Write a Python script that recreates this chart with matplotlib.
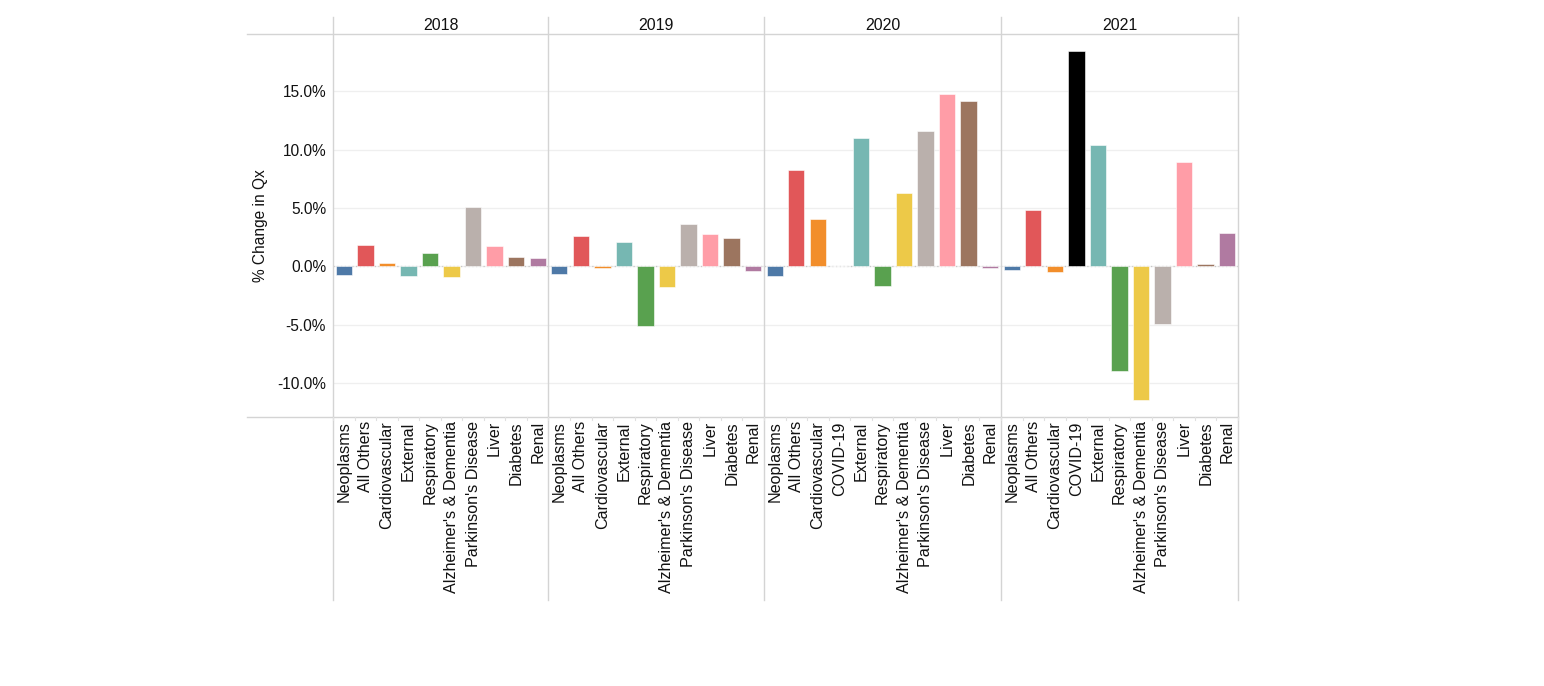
import numpy as np
import matplotlib.pyplot as plt
from matplotlib.lines import Line2D

plt.rcParams['font.family'] = ['Liberation Sans', 'DejaVu Sans']

# Data: % change in Qx by cause of death, per year
years = ['2018', '2019', '2020', '2021']
causes_pre = ['Neoplasms', 'All Others', 'Cardiovascular', 'External', 'Respiratory',
              "Alzheimer's & Dementia", "Parkinson's Disease", 'Liver', 'Diabetes', 'Renal']
causes_post = ['Neoplasms', 'All Others', 'Cardiovascular', 'COVID-19', 'External', 'Respiratory',
               "Alzheimer's & Dementia", "Parkinson's Disease", 'Liver', 'Diabetes', 'Renal']
vals_2018 = [-0.77, 1.86, 0.32, -0.86, 1.11, -0.91, 5.05, 1.77, 0.83, 0.72]
vals_2019 = [-0.63, 2.63, -0.12, 2.11, -5.08, -1.80, 3.63, 2.74, 2.46, -0.40]
vals_2020 = [-0.86, 8.22, 4.05, 0.0, 11.01, -1.66, 6.30, 11.58, 14.75, 14.18, -0.14]
vals_2021 = [-0.29, 4.79, -0.46, 18.43, 10.41, -8.99, -11.42, -4.97, 8.90, 0.20, 2.83]

colors = {
    'Neoplasms': '#4e79a7', 'All Others': '#e15759', 'Cardiovascular': '#f28e2b',
    'COVID-19': '#000000', 'External': '#76b7b2', 'Respiratory': '#59a14f',
    "Alzheimer's & Dementia": '#edc948', "Parkinson's Disease": '#bab0ac',
    'Liver': '#ff9da7', 'Diabetes': '#9c755f', 'Renal': '#b07aa1',
}

panels = [(years[0], causes_pre, vals_2018), (years[1], causes_pre, vals_2019),
          (years[2], causes_post, vals_2020), (years[3], causes_post, vals_2021)]

W, H = 1544, 686
fig = plt.figure(figsize=(W / 100, H / 100), dpi=100)
x0, x1, ytop, ybot = 333, 1238, 34, 417
ax = fig.add_axes([x0 / W, 1 - ybot / H, (x1 - x0) / W, (ybot - ytop) / H])

labels, heights, cols, bounds = [], [], [], [0]
for yr, cats, vals in panels:
    labels += cats
    heights += vals
    cols += [colors[c] for c in cats]
    bounds.append(bounds[-1] + len(cats))

pos = np.arange(len(labels))
ax.bar(pos, heights, width=0.76, color=cols, edgecolor='#ffffff', linewidth=0.4, zorder=3)

ax.set_xlim(-0.5, len(labels) - 0.5)
ax.set_ylim(-12.9, 19.9)
ax.set_yticks([-10, -5, 0, 5, 10, 15])
ax.set_yticklabels(['%.1f%%' % v for v in [-10, -5, 0, 5, 10, 15]])
ax.set_xticks(pos)
ax.set_xticklabels(labels, rotation=90, va='top', ha='center', fontsize=11.6, color='#111111')
ax.tick_params(axis='x', length=0, pad=3)
ax.tick_params(axis='y', length=0, pad=5, labelsize=11.2, labelcolor='#111111')
ax.set_ylabel('% Change in Qx', fontsize=11.2, color='#111111')
ax.yaxis.set_label_coords((268 - x0) / (x1 - x0), 0.5)

for s in ax.spines.values():
    s.set_visible(False)
ax.grid(axis='y', color='#efefef', linewidth=0.9, zorder=0)
ax.axhline(0, color='#c8c8c8', linestyle=(0, (1, 2)), linewidth=0.9, zorder=2)

# panel separators, headers
for i, b in enumerate(bounds):
    xf = (x0 + (x1 - x0) * b / len(labels)) / W
    fig.add_artist(Line2D([xf, xf], [1 - 600 / H, 1 - 17 / H], color='#d4d4d4', linewidth=1))
    if i < len(years):
        xc = (bounds[i] + bounds[i + 1]) / 2 - 0.5
        ax.text(xc, 1 + 0.5 * 17 / (ybot - ytop), years[i], transform=ax.get_xaxis_transform(),
                ha='center', va='center', fontsize=11.5, color='#111111')

for yy in (ytop, ybot):
    fig.add_artist(Line2D([247 / W, x1 / W], [1 - yy / H, 1 - yy / H], color='#d4d4d4', linewidth=1))

# small tick marks at category boundaries on the bottom line
for b in range(len(labels) + 1):
    xf = (x0 + (x1 - x0) * b / len(labels)) / W
    fig.add_artist(Line2D([xf, xf], [1 - ybot / H, 1 - (ybot + 3) / H], color='#e0e0e0', linewidth=0.8))

fig.savefig('out.png', dpi=100, facecolor='white')
